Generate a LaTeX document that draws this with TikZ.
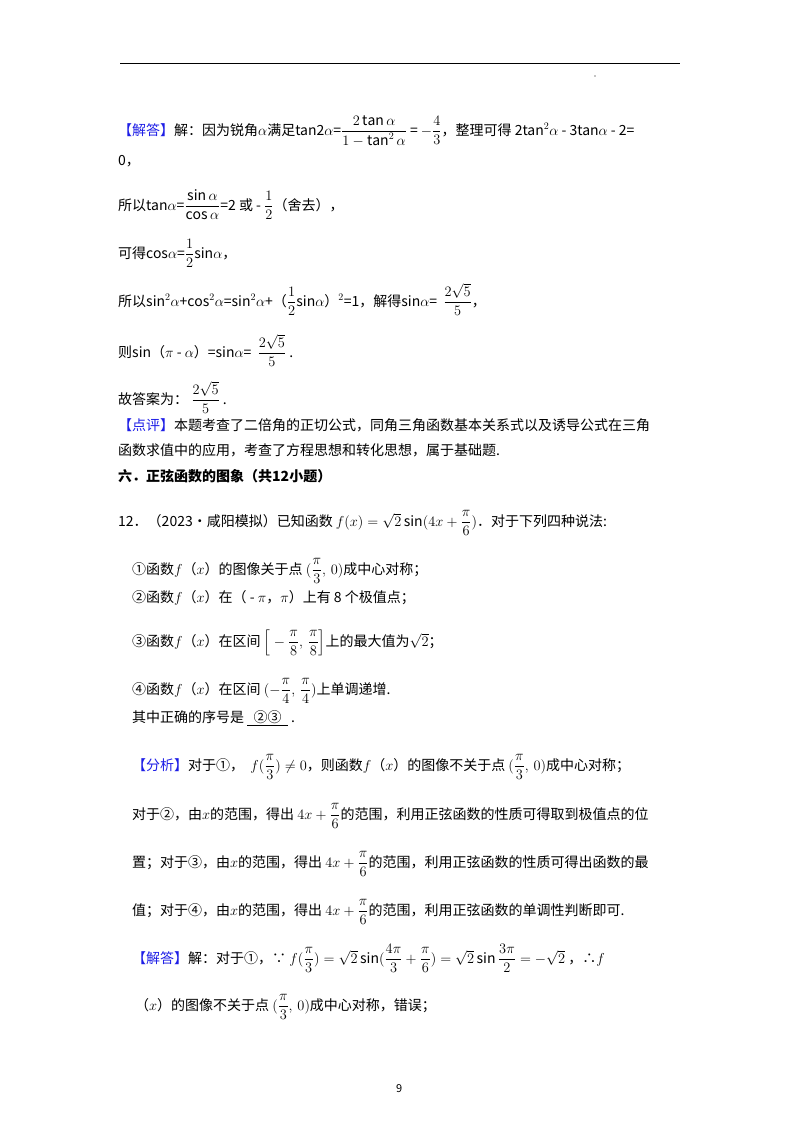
\documentclass[tikz,border=0pt]{standalone}
\usepackage{amsmath}
\usepackage{fontspec}
\setmainfont{Noto Sans CJK SC}
\definecolor{hl}{RGB}{30,30,230}
\newcommand{\tg}[1]{\textcolor{hl}{【#1】}}
\begin{document}
\begin{tikzpicture}[x=1pt,y=1pt,
  ln/.style={anchor=base west,inner sep=0,font=\fontsize{14}{17}\selectfont}]
\useasboundingbox (0,0) rectangle (800,-1132);
\draw[line width=1pt] (120,-64) -- (680,-64);
\fill (595,-76) circle (0.6);
\node[ln] (l1) at (118,-135) {\tg{解答}解：因为锐角$\alpha$满足tan2$\alpha$=$\dfrac{2\tan\alpha}{1-\tan^2\alpha}$ = $-\dfrac{4}{3}$，整理可得 2tan$^2\alpha$ - 3tan$\alpha$ - 2=};
\node[ln] (l2) at (118,-165) {0，};
\node[ln] (l3) at (118,-210) {所以tan$\alpha$=$\dfrac{\sin\alpha}{\cos\alpha}$=2 或 - $\dfrac{1}{2}$（舍去），};
\node[ln] (l4) at (118,-258) {可得cos$\alpha$=$\dfrac{1}{2}$sin$\alpha$，};
\node[ln] (l5) at (118,-306) {所以sin$^2\alpha$+cos$^2\alpha$=sin$^2\alpha$+（$\dfrac{1}{2}$sin$\alpha$）$^2$=1，解得sin$\alpha$=\ \ $\dfrac{2\sqrt5}{5}$，};
\node[ln] (l6) at (118,-357) {则sin（$\pi$ - $\alpha$）=sin$\alpha$=\ \ $\dfrac{2\sqrt5}{5}$ .};
\node[ln] (l7) at (118,-404) {故答案为：\ $\dfrac{2\sqrt5}{5}$ .};
\node[ln] (l8) at (118,-430) {\tg{点评}本题考查了二倍角的正切公式，同角三角函数基本关系式以及诱导公式在三角};
\node[ln] (l9) at (118,-455) {函数求值中的应用，考查了方程思想和转化思想，属于基础题.};
\node[ln] (l10) at (118,-481) {\textbf{六．正弦函数的图象（共12小题）}};
\node[ln] (l11) at (118,-526) {12．（2023•咸阳模拟）已知函数 $f(x)=\sqrt2\sin(4x+\dfrac{\pi}{6})$．对于下列四种说法:};
\node[ln] (l12) at (132,-574) {①函数$f$（$x$）的图像关于点 $(\dfrac{\pi}{3},\,0)$成中心对称；};
\node[ln] (l13) at (132,-602) {②函数$f$（$x$）在（ - $\pi$，$\pi$）上有 8 个极值点；};
\node[ln] (l14) at (132,-646) {③函数$f$（$x$）在区间 $\Big[-\dfrac{\pi}{8},\,\dfrac{\pi}{8}\Big]$上的最大值为$\sqrt2$；};
\node[ln] (l15) at (132,-694) {④函数$f$（$x$）在区间 $(-\dfrac{\pi}{4},\,\dfrac{\pi}{4})$上单调递增.};
\node[ln] (l16) at (132,-722) {其中正确的序号是 \underline{\ \ ②③\ \ } .};
\node[ln] (l17) at (132,-770) {\tg{分析}对于①，\ \ $f(\dfrac{\pi}{3})\neq0$，则函数$f$（$x$）的图像不关于点 $(\dfrac{\pi}{3},\,0)$成中心对称；};
\node[ln] (l18) at (132,-819) {对于②，由$x$的范围，得出 $4x+\dfrac{\pi}{6}$的范围，利用正弦函数的性质可得取到极值点的位};
\node[ln] (l19) at (132,-867) {置；对于③，由$x$的范围，得出 $4x+\dfrac{\pi}{6}$的范围，利用正弦函数的性质可得出函数的最};
\node[ln] (l20) at (132,-915) {值；对于④，由$x$的范围，得出 $4x+\dfrac{\pi}{6}$的范围，利用正弦函数的单调性判断即可.};
\node[ln] (l21) at (132,-963) {\tg{解答}解：对于①，∵ $f(\dfrac{\pi}{3})=\sqrt2\sin(\dfrac{4\pi}{3}+\dfrac{\pi}{6})=\sqrt2\sin\dfrac{3\pi}{2}=-\sqrt2$ ，∴$f$};
\node[ln] (l22) at (135,-1010) {（$x$）的图像不关于点 $(\dfrac{\pi}{3},\,0)$成中心对称，错误；};
\node[ln,font=\fontsize{11}{13}\selectfont] (pg) at (396,-1092) {9};
\end{tikzpicture}
\end{document}
